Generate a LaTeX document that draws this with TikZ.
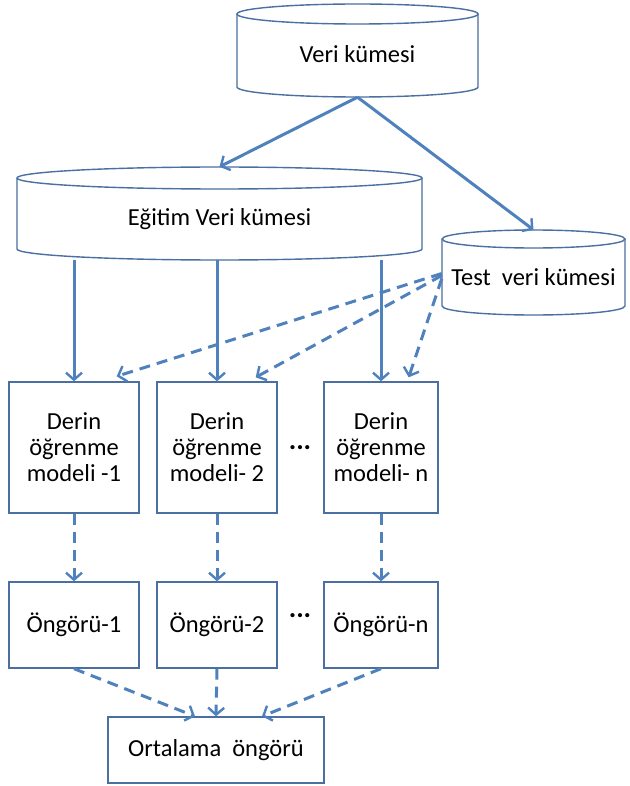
\documentclass[tikz,border=0pt]{standalone}
\usepackage{fontspec}
\setmainfont{Carlito}
\usetikzlibrary{arrows.meta,calc}
\definecolor{ln}{HTML}{4F81BD}
\definecolor{bd}{HTML}{4A6FA0}
\begin{document}
\begin{tikzpicture}[x=1pt,y=1pt,
  txt/.style={inner sep=0pt, align=center, font=\fontsize{24.5}{26}\selectfont, text=black},
  box/.style={txt, draw=bd, line width=1.4pt, fill=white},
  cyl/.style={draw=bd, line width=1.4pt, fill=white},
  arr/.style={draw=ln, line width=3pt, -{Straight Barb[length=7pt,width=16pt,line width=2.4pt]}},
  darr/.style={arr, dash pattern=on 11pt off 7pt},
  dots/.style={inner sep=0pt, font=\fontsize{28}{28}\selectfont\bfseries}]
\useasboundingbox (0,0) rectangle (629,-786);

% cylinders
\draw[cyl] (237,-14) -- (237,-87) arc (180:360:120.5 and 10) -- (478,-14);
\draw[cyl] (357.5,-14) ellipse (120.5 and 10);
\draw[cyl] (17,-178) -- (17,-249) arc (180:360:202.5 and 11) -- (422,-178);
\draw[cyl] (219.5,-178) ellipse (202.5 and 11);
\draw[cyl] (442,-239) -- (442,-306) arc (180:360:91.5 and 9) -- (625,-239);
\draw[cyl] (533.5,-239) ellipse (91.5 and 9);

\node[txt, minimum width=241pt, minimum height=93pt] (veri) at (357.5,-50.5) {\raisebox{-12pt}[0pt][0pt]{Veri kümesi}};
\node[txt, minimum width=405pt, minimum height=93pt] (egitim) at (219.5,-213.5) {\raisebox{-12pt}[0pt][0pt]{Eğitim Veri kümesi}};
\node[txt, minimum width=183pt, minimum height=85pt] (test) at (533.5,-272.5) {\raisebox{-13pt}[0pt][0pt]{Test\ \ veri kümesi}};

% model boxes
\node[box, minimum width=130pt, minimum height=131pt] (m1) at (74,-447.5) {Derin\\öğrenme\\modeli -1};
\node[box, minimum width=120pt, minimum height=131pt] (m2) at (217,-447.5) {Derin\\öğrenme\\modeli- 2};
\node[box, minimum width=114pt, minimum height=131pt] (m3) at (381,-447.5) {Derin\\öğrenme\\modeli- n};
\node[dots] (d1) at (300,-448) {...};

% prediction boxes
\node[box, minimum width=130pt, minimum height=86pt] (p1) at (74,-625) {Öngörü-1};
\node[box, minimum width=120pt, minimum height=86pt] (p2) at (217,-625) {Öngörü-2};
\node[box, minimum width=114pt, minimum height=86pt] (p3) at (381,-625) {Öngörü-n};
\node[dots] (d2) at (300,-616) {...};

\node[box, minimum width=216pt, minimum height=66pt] (avg) at (216,-750) {Ortalama\ \ öngörü};

% arrows
\draw[arr] (veri.south) -- (egitim.north);
\draw[arr] (veri.south) -- (test.north);
\draw[arr] (m1.north |- egitim.south) -- (m1.north);
\draw[arr] (m2.north |- egitim.south) -- (m2.north);
\draw[arr] (m3.north |- egitim.south) -- (m3.north);

\draw[darr] ([yshift=-1pt]test.west) -- ([xshift=-23pt,yshift=5pt]m1.north east);
\draw[darr] ([yshift=-3pt]test.west) -- ([xshift=-22pt,yshift=4pt]m2.north east);
\draw[darr] ([yshift=-6pt]test.west) -- ([xshift=-30pt,yshift=4pt]m3.north east);

\draw[darr] (m1.south) -- (p1.north);
\draw[darr] (m2.south) -- (p2.north);
\draw[darr] (m3.south) -- (p3.north);

\draw[darr] (p1.south) -- ([xshift=-21pt]avg.north);
\draw[darr] (p2.south) -- (avg.north);
\draw[darr] (p3.south) -- ([xshift=46pt]avg.north);
\end{tikzpicture}
\end{document}
